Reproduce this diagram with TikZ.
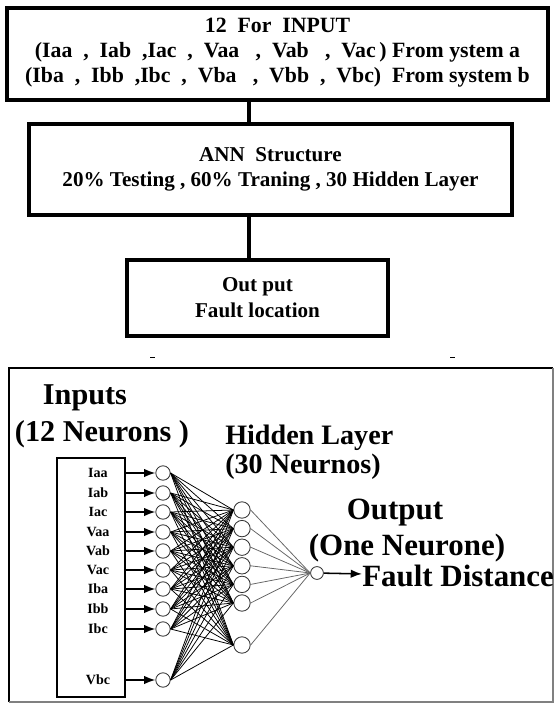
\documentclass[tikz,border=0pt]{standalone}
\usepackage{fontspec}
\setmainfont{Liberation Serif}
\usetikzlibrary{arrows.meta}

\begin{document}
\begin{tikzpicture}[x=0.025cm,y=-0.025cm]
        \tikzset{flowbox/.style = {
            draw=black,
            line width=2.5pt,
            inner sep=0pt,
            align=center,
            font=\fontsize{15}{17.8}\selectfont\bfseries } }
        \tikzset{link/.style = {
            draw=black,
            line width=2.2pt} }
        \tikzset{bigtxt/.style = {
            inner sep=0pt,
            font=\fontsize{21.5}{25.6}\selectfont\bfseries } }
        \tikzset{neuron/.style = {
            circle,
            draw=black!80,
            line width=0.6pt,
            fill=white,
            inner sep=0pt,
            minimum size=0.36cm } }
        \tikzset{inarrow/.style = {
            draw=black,
            line width=1.1pt,
            -{Latex[length=8pt,width=6pt]} } }
        \tikzset{wedge/.style = {
            draw=black,
            line width=0.55pt} }
        \useasboundingbox (0,0) rectangle (556,704);
        % flow chart
        \node[flowbox, minimum width=13.525cm, minimum height=2.3cm, font=\fontsize{15.5}{17.8}\selectfont\bfseries] (input) at (277.5,54)
            {12~~For~~INPUT\\(Iaa~~,~~Iab~~,Iac~~,~~Vaa~~~,~~Vab~~~,~~Vac\,) From ystem a\\(Iba~~,~~Ibb~~,Ibc~~,~~Vba~~~,~~Vbb~~,~~Vbc)~~From system b\\[-12pt]\mbox{}};
        \node[flowbox, minimum width=12.075cm, minimum height=2.275cm] (ann) at (270.5,169.5)
            {ANN~~Structure\\20\% Testing , 60\% Traning , 30 Hidden Layer};
        \node[flowbox, minimum width=6.525cm, minimum height=1.9cm, font=\fontsize{15}{18.5}\selectfont\bfseries] (out) at (257.5,298)
            {Out put\\Fault location};
        \coordinate (spine) at (249,0);
        \path[link] (input.south -| spine) -- (ann.north -| spine);
        \path[link] (ann.south -| spine) -- (out.north -| spine);
        \draw[line width=0.6pt] (150,357) -- (155,357);
        \draw[line width=0.6pt] (450,357) -- (455,357);
        % network
        \draw[line width=2pt] (9,702) -- (9,368) -- (553,368);
        \draw[black!50, line width=0.8pt] (553,368) -- (553,702) -- (9,702);
        \node[bigtxt] (inputs) at (85,398) {Inputs};
        \node[bigtxt] (inputsn) at (102,434) {(12 Neurons )};
        \node[bigtxt, anchor=west, align=left, font=\fontsize{20}{20.6}\selectfont\bfseries] (hidden) at (225,452)
            {Hidden Layer\\(30 Neurnos)};
        \node[bigtxt, font=\fontsize{22}{25}\selectfont\bfseries] (outputs) at (395,513) {Output};
        \node[bigtxt, font=\fontsize{22}{25}\selectfont\bfseries] (outputsn) at (407,548) {(One Neurone)};
        \node[draw=black, line width=2pt, minimum width=1.7cm, minimum height=5.975cm] (inbox) at (91,577.5) {};
        \foreach \lab/\y [count=\i] in {Iaa/473,Iab/493,Iac/512,Vaa/532,Vab/551,Vac/570,Iba/589,Ibb/609,Ibc/629,Vbc/680}{
            \node[inner sep=0pt, font=\fontsize{10}{12}\selectfont\bfseries] (lab\i) at (98,\y) {\lab};
            \node[neuron] (in\i) at (163,\y) {};
            \path[inarrow] (inbox.east |- in\i) -- (in\i);
        }
        \foreach \y [count=\j] in {510,528.6,547.2,565.8,584.4,603,645}{
            \node[neuron, minimum size=0.41cm] (hid\j) at (242,\y) {};
        }
        \node[neuron, minimum size=0.32cm] (outn) at (317,573) {};
        \foreach \i in {1,...,10}{
            \foreach \j in {1,...,7}{
                \path[wedge] (in\i.east) edge (hid\j.west);
            }
        }
        \foreach \j in {1,...,7}{
            \path[wedge, draw=black!60] (hid\j.east) edge (outn.west);
        }
        \node[bigtxt, anchor=west, font=\fontsize{22}{25}\selectfont\bfseries] (dist) at (362,576) {Fault Distance};
        \path[inarrow] (outn) -- (dist);
\end{tikzpicture}
\end{document}
